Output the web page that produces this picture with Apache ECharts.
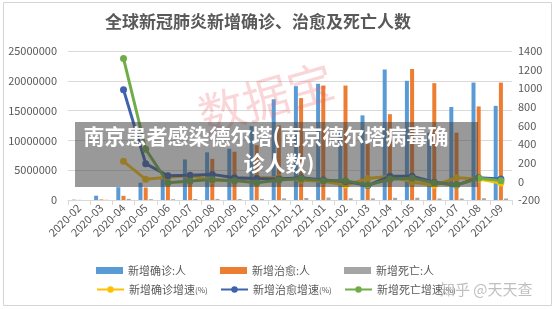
<!DOCTYPE html>
<html>
<head>
<meta charset="utf-8">
<script src="https://cdn.jsdelivr.net/npm/echarts@6/dist/echarts.min.js"></script>
<style>
    html, body {margin: 0; padding: 0; background: #fff;}
    #main {width: 555px; height: 309px;}
</style>
</head>
<body>
<div id="main"></div>
<script>
const months = ['2020-02', '2020-03', '2020-04', '2020-05', '2020-06', '2020-07', '2020-08', '2020-09', '2020-10', '2020-11',
    '2020-12', '2021-01', '2021-02', '2021-03', '2021-04', '2021-05', '2021-06', '2021-07', '2021-08', '2021-09'];

// 柱子：人数
const confirmed = [60000, 720000, 2150000, 2900000, 3900000, 6800000, 8000000, 8600000, 12400000, 16900000,
    19100000, 19500000, 11200000, 14200000, 21900000, 20000000, 11300000, 15600000, 19700000, 15800000];
const recovered = [20000, 100000, 700000, 2100000, 3400000, 4300000, 6900000, 8100000, 9200000, 12500000,
    17100000, 19200000, 19200000, 9500000, 14400000, 22000000, 19600000, 11300000, 15700000, 19700000];
const deaths = [2500, 36000, 190000, 140000, 130000, 170000, 180000, 160000, 180000, 280000,
    340000, 410000, 290000, 270000, 370000, 380000, 250000, 250000, 300000, 250000];

// 折线：增速(%)
const confirmedRate = [null, null, 215, 22, 44, 60, 12, 8, 40, 40, 12, 2, -40, 30, 55, -8, -42, 38, 25, -18];
const recoveredRate = [null, null, 985, 190, 60, 65, 75, 40, 30, 25, 40, 15, 0, -45, 55, 55, -10, -40, 40, 25];
const deathRate = [null, null, 1320, 345, -15, 5, 20, 8, -15, 15, 30, 8, 8, -40, 22, 33, -14, -40, 33, 8];

const leftTicks = [0, 25000000, 5000000];
const rightTicks = [-200, 1400, 200];

const font = 'Noto Sans CJK SC';
const grey = '#595959';

const chart = echarts.init(document.getElementById('main'), null, {renderer: 'canvas'});

function barSeries(name, data, color) {
    return {
        name: name,
        type: 'bar',
        yAxisIndex: 0,
        data: data,
        barWidth: 4,
        barGap: '30%',
        itemStyle: {color: color}
    }
}

function lineSeries(name, data, color) {
    return {
        name: name,
        type: 'line',
        yAxisIndex: 1,
        data: data,
        symbol: 'circle',
        symbolSize: 7,
        lineStyle: {width: 3, color: color},
        itemStyle: {color: color}
    }
}

// 每个图例单独摆放，对齐成两行三列
function legendItem(name, x, y, isBar) {
    return {
        left: x,
        top: y,
        padding: 0,
        itemWidth: 27,
        itemHeight: isBar ? 7 : 8,
        textStyle: {
            color: grey,
            fontSize: 11,
            fontFamily: font,
            rich: {
                s: {fontSize: 8, color: grey, fontFamily: font}
            }
        },
        formatter: function (n) {
            return n.replace('(%)', '{s|(%)}');
        },
        data: [isBar ? {name: name, icon: 'rect'} : name]
    }
}

let option = {
    animation: false,
    title: {
        text: '全球新冠肺炎新增确诊、治愈及死亡人数',
        left: 100,
        top: 8,
        textStyle: {
            fontSize: 17,
            fontWeight: 'bold',
            color: grey,
            fontFamily: font
        }
    },
    legend: [
        legendItem('新增确诊:人', 96, 265, true),
        legendItem('新增治愈:人', 220, 265, true),
        legendItem('新增死亡:人', 344, 265, true),
        legendItem('新增确诊增速(%)', 96, 284, false),
        legendItem('新增治愈增速(%)', 220, 284, false),
        legendItem('新增死亡增速(%)', 344, 284, false)
    ],
    grid: {
        left: 68,
        right: 43,
        top: 51,
        bottom: 109
    },
    xAxis: {
        type: 'category',
        data: months,
        axisLine: {lineStyle: {color: '#d9d9d9'}},
        axisTick: {show: true, lineStyle: {color: '#d9d9d9'}},
        axisLabel: {
            rotate: 45,
            interval: 0,
            fontSize: 11,
            color: grey,
            fontFamily: font,
            margin: 6
        }
    },
    yAxis: [{
        type: 'value',
        min: leftTicks[0],
        max: leftTicks[1],
        interval: leftTicks[2],
        axisLine: {show: false},
        axisTick: {show: false},
        splitLine: {lineStyle: {color: '#d9d9d9'}},
        axisLabel: {
            fontSize: 11, color: grey, fontFamily: font, margin: 11,
            formatter: function (v) {
                return String(v);
            }
        }
    }, {
        type: 'value',
        min: rightTicks[0],
        max: rightTicks[1],
        interval: rightTicks[2],
        axisLine: {show: false},
        axisTick: {show: false},
        splitLine: {show: false},
        axisLabel: {
            fontSize: 11, color: grey, fontFamily: font, margin: 6,
            formatter: function (v) {
                return String(v);
            }
        }
    }],
    series: [
        barSeries('新增确诊:人', confirmed, '#5b9bd5'),
        barSeries('新增治愈:人', recovered, '#ed7d31'),
        barSeries('新增死亡:人', deaths, '#a5a5a5'),
        lineSeries('新增确诊增速(%)', confirmedRate, '#ffc000'),
        lineSeries('新增治愈增速(%)', recoveredRate, '#3f62ad'),
        lineSeries('新增死亡增速(%)', deathRate, '#70ad47')
    ],
    graphic: [
        // 图表外框
        {
            type: 'rect',
            silent: true,
            shape: {x: 3.5, y: 2.5, width: 548, height: 303},
            style: {fill: 'none', stroke: '#d4d4d4', lineWidth: 1}
        },
        // 水印
        {
            type: 'text',
            silent: true,
            x: 266,
            y: 98,
            rotation: 0.28,
            z: 50,
            style: {
                text: '数据宝',
                fontSize: 46,
                fontFamily: font,
                fill: 'rgba(235, 90, 100, 0.25)',
                align: 'center',
                verticalAlign: 'middle'
            }
        },
        // 标题遮罩
        {
            type: 'rect',
            silent: true,
            z: 100,
            shape: {x: 75, y: 122, width: 403, height: 65},
            style: {fill: 'rgba(70, 70, 70, 0.55)'}
        },
        {
            type: 'text',
            silent: true,
            z: 101,
            x: 266,
            y: 136,
            style: {
                text: '南京患者感染德尔塔(南京德尔塔病毒确',
                fontSize: 21,
                fontWeight: 'bold',
                fontFamily: font,
                fill: '#fff',
                align: 'center',
                verticalAlign: 'middle'
            }
        },
        {
            type: 'text',
            silent: true,
            z: 101,
            x: 279,
            y: 163,
            style: {
                text: '诊人数)',
                fontSize: 21,
                fontWeight: 'bold',
                fontFamily: font,
                fill: '#fff',
                align: 'center',
                verticalAlign: 'middle'
            }
        },
        {
            type: 'text',
            silent: true,
            z: 101,
            x: 440,
            y: 289,
            style: {
                text: '知乎 @天天查',
                fontSize: 15,
                fontFamily: font,
                fill: 'rgba(170, 170, 170, 0.75)',
                verticalAlign: 'middle'
            }
        }
    ]
}

chart.setOption(option);
</script>
</body>
</html>
